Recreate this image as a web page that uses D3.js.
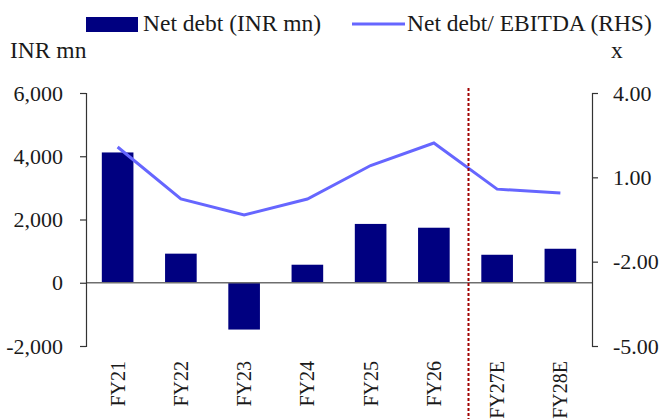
<!DOCTYPE html>
<html><head><meta charset="utf-8">
<script src="https://cdn.jsdelivr.net/npm/d3@7"></script>
<style>body{margin:0;background:#fff}svg{display:block}text{font-family:"Liberation Serif",serif;fill:#1a1a1a}</style>
</head><body><svg id="c" width="659" height="419"></svg>
<script>
const categories = ["FY21","FY22","FY23","FY24","FY25","FY26","FY27E","FY28E"];
const netDebt = [4120, 920, -1480, 570, 1860, 1740, 885, 1075];
const netDebtEbitda = [2.08, 0.23, -0.34, 0.23, 1.42, 2.22, 0.58, 0.44];
const leftTicks = [-2000, 0, 2000, 4000, 6000];
const rightTicks = [-5, -2, 1, 4];
const legendLabels = ["Net debt (INR mn)", "Net debt/ EBITDA (RHS)"];

const svg = d3.select("#c");
const L = 86, R = 592, T = 93, B = 346;
const FS = 22, XFS = 20, LFS = 23.5;
const loc = d3.formatLocale({decimal: ".", thousands: ",", grouping: [3], currency: ["", ""], minus: "-"});
const x = d3.scaleBand().domain(categories).range([L, R]).paddingInner(0.5).paddingOuter(0.25);
const yL = d3.scaleLinear().domain([-2000, 6000]).range([B, T]);
const yR = d3.scaleLinear().domain([-5, 4]).range([B, T]);

// bars
svg.append("g").selectAll("rect").data(categories).join("rect")
  .attr("x", d => x(d)).attr("width", x.bandwidth())
  .attr("y", (d,i) => yL(Math.max(0, netDebt[i])))
  .attr("height", (d,i) => Math.abs(yL(netDebt[i]) - yL(0)))
  .attr("fill", "#000080");

// zero line
svg.append("line").attr("x1", L).attr("x2", R).attr("y1", yL(0)).attr("y2", yL(0))
  .attr("stroke", "#6e6e6e").attr("stroke-width", 1.5);

// line
svg.append("path").datum(netDebtEbitda)
  .attr("d", d3.line().x((d,i) => x(categories[i]) + x.bandwidth()/2).y(d => yR(d)))
  .attr("fill", "none").attr("stroke", "#6666ff").attr("stroke-width", 3);

// dashed separator
const sepX = (x("FY26") + x.bandwidth() + x("FY27E")) / 2 + 3;
svg.append("line").attr("x1", sepX).attr("x2", sepX).attr("y1", 88).attr("y2", 419)
  .attr("stroke", "#a00000").attr("stroke-width", 2).attr("stroke-dasharray", "3,2");

// axes
const gl = svg.append("g").attr("transform", `translate(${L},0)`)
  .call(d3.axisLeft(yL).tickValues(leftTicks).tickFormat(loc.format(",")).tickSizeOuter(0).tickSize(6).tickPadding(17));
const gr = svg.append("g").attr("transform", `translate(${R},0)`)
  .call(d3.axisRight(yR).tickValues(rightTicks).tickFormat(loc.format(".2f")).tickSizeOuter(0).tickSize(6).tickPadding(15));
[gl, gr].forEach(g => {
  g.selectAll("path,line").attr("stroke", "#333").attr("stroke-width", 1.2);
  g.selectAll("text").style("font-size", FS + "px").style("font-family", '"Liberation Serif",serif').attr("fill", "#1a1a1a");
});

// x labels
svg.append("g").selectAll("text").data(categories).join("text")
  .attr("transform", d => `translate(${x(d) + x.bandwidth()/2 + 7},361) rotate(-90)`)
  .attr("text-anchor", "end").style("font-size", XFS + "px").text(d => d);

// axis titles
svg.append("text").attr("x", 10).attr("y", 58).style("font-size", LFS + "px").text("INR mn");
svg.append("text").attr("x", 611).attr("y", 58).style("font-size", LFS + "px").text("x");

// legend
svg.append("rect").attr("x", 86).attr("y", 17).attr("width", 52).attr("height", 15).attr("fill", "#000080");
svg.append("text").attr("x", 143).attr("y", 31).style("font-size", LFS + "px").text(legendLabels[0]);
svg.append("line").attr("x1", 352).attr("x2", 405).attr("y1", 24).attr("y2", 24).attr("stroke", "#6666ff").attr("stroke-width", 3);
svg.append("text").attr("x", 407).attr("y", 31).style("font-size", LFS + "px").text(legendLabels[1]);
</script></body></html>
